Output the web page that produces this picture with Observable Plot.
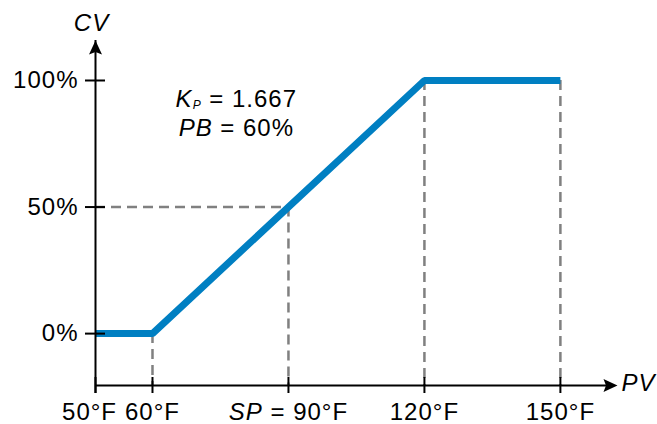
<!DOCTYPE html>
<html><head><meta charset="utf-8">
<script src="https://cdn.jsdelivr.net/npm/d3@7"></script>
<script src="https://cdn.jsdelivr.net/npm/@observablehq/plot@0.6"></script>
<style>body{margin:0;background:#fff}</style>
</head><body><div id="chart"></div>
<script>
// ---- data ----
const pv = [50, 60, 120, 150];
const cv = [0, 0, 100, 100];
const xTicks = [50, 60, 90, 120, 150];
const xTickLabels = ["50°F", "60°F", "SP = 90°F", "120°F", "150°F"];
const yTicks = [0, 50, 100];
const yTickLabels = ["0%", "50%", "100%"];
const guidePV = [60, 90, 120, 150];
const guideCV = [0, 50, 100, 100];
const setPoint = 90, setCV = 50;
const kpText = "KP = 1.667";
const pbText = "PB = 60%";
const annotX = 78.5, annotY = [92.4, 81.3];

// axis extents (data units); the axis is broken between 50°F and 60°F
const xStart = 50, xBreak = 60, xMax = 162.6, yMin = -20.5, yMax = 115.8;
const breakStretch = 1.2574; // 50–60°F gap drawn 1.2574× wider than the rest
const xMinT = xBreak - (xBreak - xStart) * breakStretch;

const W = 657, H = 424, mL = 95, mR = 40, mT = 40, mB = 39;
const font = "'Liberation Sans', Arial, sans-serif";

const arrowHead = {
  draw(ctx) { ctx.moveTo(0, 0); ctx.lineTo(6.5, 14); ctx.lineTo(0, 11.5); ctx.lineTo(-6.5, 14); ctx.closePath(); }
};

const line = pv.map((x, i) => ({x, y: cv[i]}));
const guides = guidePV.map((x, i) => ({x, y: guideCV[i]}));
const xLabel = d => { const i = xTicks.indexOf(d); return i >= 0 ? xTickLabels[i] : ""; };

const chart = Plot.plot({
  width: W, height: H,
  marginLeft: mL, marginRight: mR, marginTop: mT, marginBottom: mB,
  x: {domain: [xMinT, xMax], transform: d => d < xBreak ? xBreak - (xBreak - d) * breakStretch : d, label: null},
  y: {domain: [yMin, yMax], label: null},
  style: {fontFamily: font, fontSize: "24px", color: "#000", background: "#fff", letterSpacing: "1px"},
  marks: [
    Plot.ruleX(guides, {x: "x", y1: "y", y2: yMin, stroke: "#808080", strokeWidth: 2.5, strokeDasharray: "10,6"}),
    Plot.ruleY([setCV], {y: d => d, x1: xStart, x2: setPoint, stroke: "#808080", strokeWidth: 2.5, strokeDasharray: "10,6"}),
    Plot.line(line, {x: "x", y: "y", stroke: "#007fc2", strokeWidth: 7, strokeLinejoin: "miter", strokeLinecap: "butt"}),
    Plot.ruleX([xStart], {y1: yMin, y2: yMax, stroke: "#000", strokeWidth: 2, insetTop: 8}),
    Plot.ruleY([yMin], {x1: xStart, x2: xMax, stroke: "#000", strokeWidth: 2, insetRight: 8}),
    Plot.dot([{x: xStart, y: yMax}], {x: "x", y: "y", symbol: arrowHead, fill: "#000", stroke: null}),
    Plot.dot([{x: xMax, y: yMin}], {x: "x", y: "y", symbol: arrowHead, fill: "#000", stroke: null, rotate: 90}),
    Plot.axisX(xTicks, {tickSize: 16, dy: -8, strokeWidth: 2, tickFormat: () => "", label: null}),
    Plot.axisX(xTicks.slice(0, 1), {tickSize: 0, tickPadding: 17, dx: -6, fontSize: 24, tickFormat: xLabel, label: null}),
    Plot.axisX(xTicks.slice(1), {tickSize: 0, tickPadding: 17, fontSize: 24, tickFormat: xLabel, label: null}),
    Plot.axisY(yTicks, {tickSize: 20, dx: 10, strokeWidth: 2, tickFormat: () => "", label: null}),
    Plot.axisY(yTicks, {tickSize: 0, tickPadding: 17, fontSize: 24, tickFormat: d => yTickLabels[yTicks.indexOf(d)], label: null}),
    Plot.text(["CV"], {x: xStart, y: yMax, dy: -17, dx: -4, fontStyle: "italic", fontSize: 24}),
    Plot.text(["PV"], {x: xMax, y: yMin, dx: 4, dy: -2, textAnchor: "start", fontStyle: "italic", fontSize: 24}),
    Plot.text([kpText], {x: annotX, y: annotY[0], fontSize: 24}),
    Plot.text([pbText], {x: annotX, y: annotY[1], fontSize: 24})
  ]
});

function rich(el, parts) {
  const t = d3.select(el); t.text("");
  parts.forEach(p => {
    const ts = t.append("tspan").text(p.t);
    if (p.italic) ts.attr("font-style", "italic");
    if (p.size) ts.attr("font-size", p.size);
    if (p.dy) ts.attr("dy", p.dy);
  });
}
d3.select(chart).selectAll("text").each(function() {
  const s = this.textContent;
  if (s === "SP = 90°F") rich(this, [{t: "SP", italic: true}, {t: " = 90°F"}]);
  else if (s === kpText) rich(this, [{t: "K", italic: true}, {t: "P", italic: true, size: 12, dy: 2}, {t: " = 1.667", dy: -2}]);
  else if (s === pbText) rich(this, [{t: "PB", italic: true}, {t: " = 60%"}]);
});
document.getElementById("chart").appendChild(chart);
</script>
</body></html>
